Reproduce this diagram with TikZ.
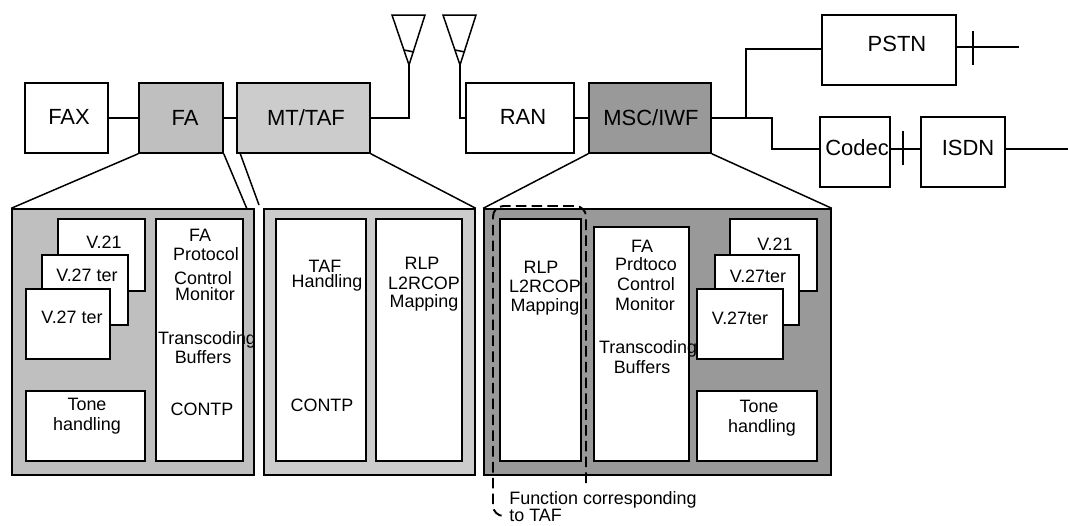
\documentclass[tikz,border=0pt]{standalone}
\usepackage{fontspec}
\setmainfont{Liberation Sans}
\usetikzlibrary{positioning,calc}

\definecolor{fagray}{HTML}{BFBFBF}
\definecolor{mtgray}{HTML}{CCCCCC}
\definecolor{mscgray}{HTML}{999999}

\tikzset{
  wire/.style={line width=0.85pt},
  blockbox/.style={draw,line width=0.85pt,inner sep=0pt},
  biglabel/.style={font=\fontsize{12.5}{14}\selectfont,inner sep=0pt},
  smalllabel/.style={font=\fontsize{10.2}{12}\selectfont,inner sep=0pt}
}

\begin{document}
\begin{tikzpicture}[x=0.02cm,y=-0.02cm]

  \useasboundingbox (0,0) rectangle (1068,525);

  % lower panels
  \foreach \n/\xa/\xb/\col in {fapanel/12/254/fagray,mtpanel/264/475/mtgray,mscpanel/484/831/mscgray} {
    \node[blockbox,fill=\col,minimum width={(\xb-\xa)*0.02cm},minimum height=5.32cm] (\n) at ({(\xa+\xb)/2},342) {};
  }

  % upper row and inner blocks, name/left/right/top/bottom/fill
  \foreach \n/\xa/\xb/\ya/\yb/\col in {
      fax/25/108/83/153/white,fa/139/223/83/153/fagray,mt/237/370/83/153/mtgray,
      ran/466/574/83/153/white,msc/589/711/83/153/mscgray,
      pstn/822/956/15/85/white,codec/820/890/117/187/white,isdn/921/1005/117/187/white,
      lvone/58/145/219/291/white,lvtwo/42/128/255/325/white,lvthree/26/110/289/359/white,
      ltone/26/145/391/461/white,lfa/156/243/219/461/white,
      mtaf/276/366/219/461/white,mrlp/376/462/219/461/white,
      rrlp/500/581/219/461/white,rfa/594/689/227/461/white,
      rvone/730/817/219/291/white,rvtwo/715/799/255/325/white,rvthree/697/783/289/359/white,
      rtone/697/817/391/461/white} {
    \node[blockbox,fill=\col,minimum width={(\xb-\xa)*0.02cm},minimum height={(\yb-\ya)*0.02cm}]
      (\n) at ({(\xa+\xb)/2},{(\ya+\yb)/2}) {};
  }

  % upper labels
  \foreach \n/\x/\y/\t in {tfax/69/117/FAX,tfa/185/118/FA,tmt/306/118/{MT/TAF},tran/523/117/RAN,
      tmsc/651/118/{MSC/IWF},tpstn/897/44/PSTN,tcodec/857/148/Codec,tisdn/968/148/ISDN} {
    \node[biglabel] (\n) at (\x,\y) {\t};
  }

  % small labels
  \foreach \n/\x/\y/\t in {
      a1/104/242/V.21,a2/87/275/V.27 ter,a3/72/317/V.27 ter,
      a4/200/235/FA,a5/206/254/Protocol,a6/203/278/Control,a7/205/294/Monitor,
      a8/207/340/Transcoding,a9/203/357/Buffers,a10/202/409/CONTP,
      a11/87/404/Tone,a12/87/426/handling,
      b1/325/266/TAF,b2/327/283/Handling,b3/322/405/CONTP,
      b4/422/263/RLP,b5/424/283/L2RCOP,b6/424/303/Mapping,
      c1/541/267/RLP,c2/545/286/L2RCOP,c3/545/307/Mapping,
      c4/642/246/FA,c5/646/264/Prdtoco,c6/646/284/Control,c7/645/304/Monitor,
      c8/648/349/Transcoding,c9/642/367/Buffers,
      c10/775/244/V.21,c11/758/276/V.27ter,c12/740/318/V.27ter,
      c13/759/406/Tone,c14/762/428/handling} {
    \node[smalllabel] (\n) at (\x,\y) {\t};
  }
  \node[smalllabel,anchor=west] (fn1) at (509,500) {Function corresponding};
  \node[smalllabel,anchor=west] (fn2) at (509,515) {to TAF};

  % connectors of the upper row
  \draw[wire] (fax.east) -- (fa.west);
  \draw[wire] (fa.east) -- (mt.west);
  \draw[wire] (ran.east) -- (msc.west);

  % antennas
  \coordinate (antl) at (409,65);
  \coordinate (antr) at (460,65);
  \foreach \a in {antl,antr} {
    \draw[wire,line join=miter] (\a) -- ++(-17,-50) -- ++(33,0) -- cycle;
    \draw[wire] ($(\a)+(-5,-15)$) -- ($(\a)+(5,-13)$);
  }
  \draw[wire] (mt.east) -| (antl);
  \draw[wire] (ran.west) -| (antr);

  % towards the networks
  \coordinate (split) at (746,118);
  \coordinate (bend) at (772,118);
  \coordinate (netrow) at (0,149);
  \draw[wire] (msc.east) -- (bend) |- (codec.west |- netrow);
  \draw[wire] (split) |- (pstn.west |- 0,49);
  \draw[wire] (codec.east |- netrow) -- (isdn.west |- netrow);
  \coordinate (pstnend) at (1019,47);
  \coordinate (isdnend) at (1068,149);
  \draw[wire] (pstn.east |- pstnend) -- (pstnend);
  \draw[wire] (isdn.east |- isdnend) -- (isdnend);
  \draw[wire] (973,31) -- (973,65);
  \draw[wire] (903,131) -- (903,165);

  % expansion lines
  \coordinate (faend) at (247,209);
  \coordinate (mtend) at (259,205);
  \draw[wire] (fa.south west) -- (fapanel.north west);
  \draw[wire] (fa.south east) -- (faend);
  \draw[wire] (240,153) -- (mtend);
  \draw[wire] (mt.south east) -- (mtpanel.north east);
  \draw[wire] (msc.south west) -- (mscpanel.north west);
  \draw[wire] (msc.south east) -- (mscpanel.north east);

  % function corresponding to TAF
  \coordinate (dashstart) at (586,483);
  \coordinate (dashend) at (505,516);
  \draw[line width=1.1pt,dash pattern=on 6pt off 3pt,rounded corners=6pt]
    (dashstart) -- (586,206) -- (493,206) -- (493,516) -- (dashend);

\end{tikzpicture}
\end{document}
